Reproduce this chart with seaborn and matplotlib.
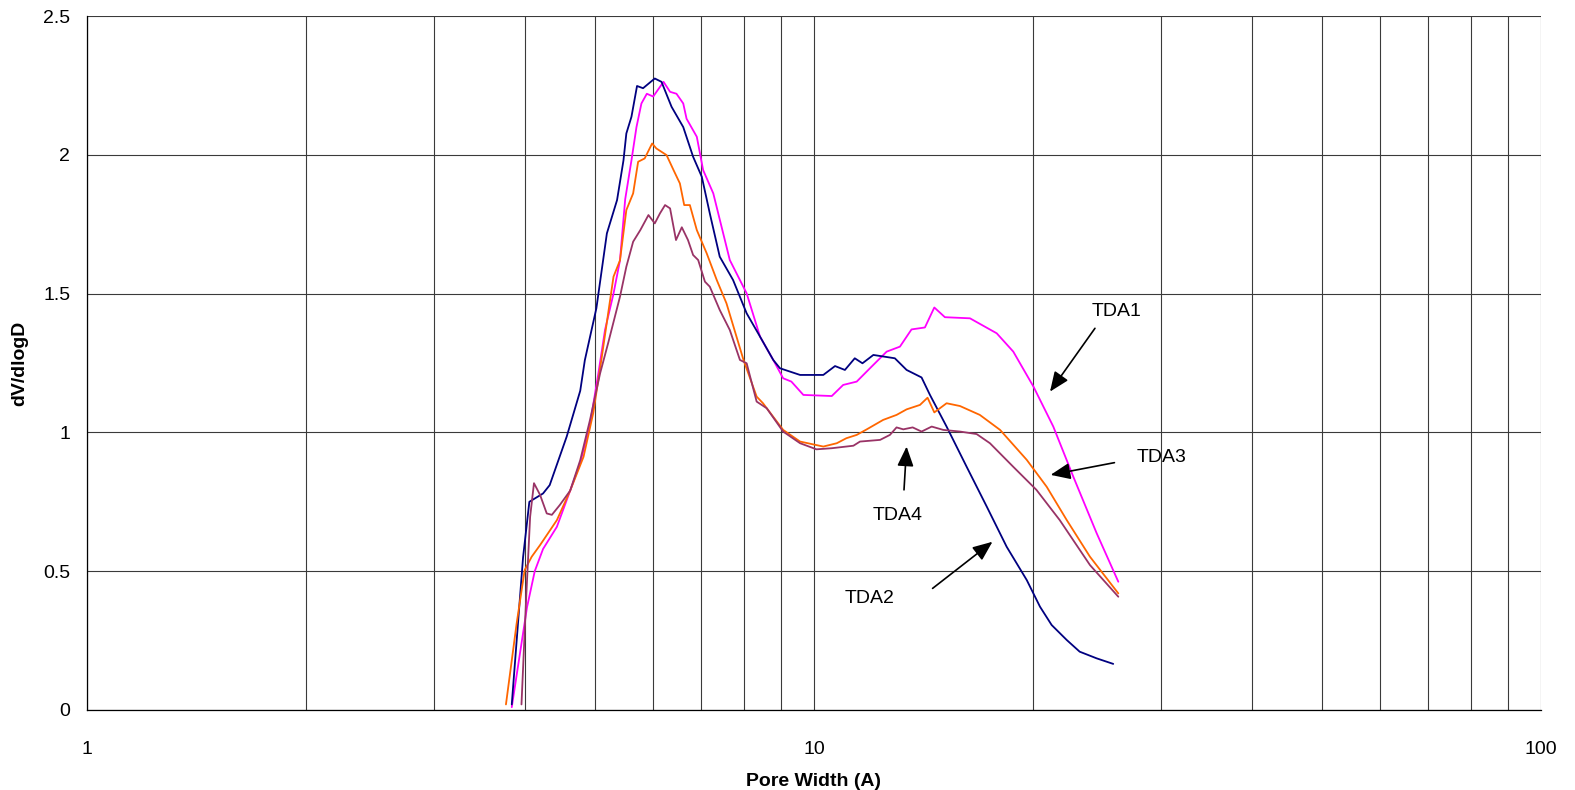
# coding=utf-8
# pore width distribution of the four TDA samples, log x axis
from matplotlib import pyplot as plt
from matplotlib.ticker import LogLocator, NullFormatter, FixedLocator
import seaborn as sns

## data
tda1_x = [3.84, 4.03, 4.13, 4.24, 4.43, 4.62, 4.77, 4.92, 5.05, 5.16, 5.30, 5.41, 5.50, 5.61, 5.70, 5.79,
          5.89, 6.01, 6.21, 6.34, 6.47, 6.61, 6.68, 6.90, 7.04, 7.27, 7.66, 8.08, 8.43, 8.79, 9.07, 9.31,
          9.67, 10.58, 10.97, 11.45, 11.94, 12.59, 13.13, 13.62, 14.21, 14.64, 15.14, 16.39, 17.84, 18.80,
          20.04, 21.34, 22.74, 24.48, 26.22]
tda1_y = [0.01, 0.37, 0.50, 0.58, 0.66, 0.79, 0.89, 1.03, 1.21, 1.37, 1.50, 1.62, 1.84, 1.98, 2.10, 2.185,
          2.22, 2.21, 2.263, 2.227, 2.22, 2.185, 2.13, 2.065, 1.945, 1.861, 1.621, 1.501, 1.345, 1.261, 1.195, 1.183,
          1.135, 1.131, 1.171, 1.183, 1.231, 1.291, 1.309, 1.371, 1.378, 1.45, 1.415, 1.411, 1.357, 1.291,
          1.165, 1.021, 0.84, 0.637, 0.462]

tda2_x = [3.84, 3.98, 4.06, 4.24, 4.33, 4.57, 4.77, 4.84, 5.02, 5.19, 5.36, 5.47, 5.52, 5.61, 5.71, 5.82,
          6.04, 6.17, 6.37, 6.61, 6.82, 7.01, 7.19, 7.42, 7.74, 8.08, 8.43, 8.79, 8.98, 9.57, 10.3, 10.69,
          11.03, 11.38, 11.66, 12.07, 12.92, 13.41, 14.06, 14.44, 15.22, 16.22, 17.29, 18.41, 19.62, 20.46,
          21.23, 22.27, 23.2, 24.48, 25.8]
tda2_y = [0.02, 0.55, 0.75, 0.78, 0.81, 0.985, 1.15, 1.26, 1.447, 1.717, 1.837, 1.98, 2.077, 2.137, 2.248, 2.24,
          2.275, 2.263, 2.173, 2.10, 1.993, 1.921, 1.789, 1.633, 1.549, 1.429, 1.345, 1.261, 1.231, 1.207, 1.207, 1.239,
          1.225, 1.267, 1.249, 1.279, 1.267, 1.225, 1.198, 1.135, 1.021, 0.876, 0.732, 0.588, 0.468, 0.372,
          0.306, 0.252, 0.21, 0.186, 0.166]

tda3_x = [3.77, 3.90, 4.00, 4.09, 4.20, 4.43, 4.62, 4.82, 4.97, 5.10, 5.30, 5.41, 5.52, 5.64, 5.73, 5.85,
          5.99, 6.07, 6.27, 6.41, 6.54, 6.63, 6.75, 6.90, 7.12, 7.35, 7.58, 8.00, 8.34, 8.51, 9.07, 9.57,
          10.30, 10.75, 11.08, 11.45, 11.82, 12.45, 12.99, 13.41, 13.99, 14.33, 14.64, 15.22, 15.88, 16.91,
          18.03, 19.62, 20.9, 22.27, 23.97, 26.22]
tda3_y = [0.02, 0.312, 0.504, 0.552, 0.594, 0.684, 0.79, 0.912, 1.069, 1.261, 1.561, 1.62, 1.801, 1.861, 1.975, 1.987,
          2.041, 2.023, 1.999, 1.945, 1.897, 1.819, 1.819, 1.729, 1.645, 1.549, 1.465, 1.261, 1.129, 1.105, 1.009, 0.967,
          0.949, 0.961, 0.979, 0.991, 1.011, 1.045, 1.063, 1.083, 1.099, 1.125, 1.072, 1.105, 1.095, 1.063,
          1.009, 0.901, 0.804, 0.684, 0.552, 0.42]

tda4_x = [3.96, 4.02, 4.07, 4.12, 4.20, 4.29, 4.36, 4.47, 4.62, 4.77, 4.92, 5.08, 5.21, 5.41, 5.52, 5.64,
          5.77, 5.92, 6.04, 6.14, 6.24, 6.34, 6.46, 6.58, 6.71, 6.82, 6.93, 7.08, 7.19, 7.42, 7.66, 7.91,
          8.08, 8.34, 8.61, 9.07, 9.57, 10.08, 10.58, 11.33, 11.57, 12.33, 12.72, 12.99, 13.27, 13.67,
          14.06, 14.52, 15.06, 15.88, 16.74, 17.46, 18.80, 20.23, 21.78, 23.97, 26.22]
tda4_y = [0.02, 0.408, 0.696, 0.817, 0.775, 0.708, 0.703, 0.738, 0.79, 0.90, 1.045, 1.213, 1.321, 1.489, 1.597, 1.687,
          1.729, 1.783, 1.753, 1.789, 1.819, 1.807, 1.693, 1.739, 1.693, 1.639, 1.621, 1.543, 1.525, 1.441, 1.369, 1.261,
          1.249, 1.111, 1.087, 1.003, 0.961, 0.939, 0.943, 0.952, 0.967, 0.973, 0.991, 1.018, 1.011, 1.018,
          1.003, 1.021, 1.009, 1.003, 0.994, 0.961, 0.876, 0.793, 0.684, 0.522, 0.408]

## labels: (text, text pos, arrow tail, arrow head)
labels = ['TDA1', 'TDA3', 'TDA4', 'TDA2']
label_xy = [(26.1, 1.434), (30.1, 0.911), (13.05, 0.702), (11.94, 0.40)]
tail_xy = [(24.35, 1.375), (25.9, 0.891), (13.3, 0.793), (14.56, 0.438)]
head_xy = [(21.12, 1.147), (21.16, 0.847), (13.41, 0.949), (17.6, 0.606)]


def main():
    sns.set_style('white')
    plt.rcParams['font.family'] = ['Liberation Sans', 'DejaVu Sans']
    for k in ['text.color', 'axes.labelcolor', 'xtick.labelcolor', 'ytick.labelcolor']:
        plt.rcParams[k] = 'black'

    fig = plt.figure(figsize=(15.75, 7.9), dpi=100)
    ax = fig.add_axes([0.0552, 0.1013, 0.9232, 0.8784])

    series = [(tda1_x, tda1_y, '#FF00FF'), (tda2_x, tda2_y, '#000080'),
              (tda3_x, tda3_y, '#FF6600'), (tda4_x, tda4_y, '#993366')]
    for xs, ys, c in series:
        sns.lineplot(x=xs, y=ys, color=c, linewidth=1.3, sort=False, ax=ax)

    ax.set_xscale('log')
    ax.set_xlim(1, 100)
    ax.set_ylim(0, 2.5)
    ax.xaxis.set_major_locator(FixedLocator([1, 10, 100]))
    ax.set_xticklabels(['1', '10', '100'])
    ax.xaxis.set_minor_locator(LogLocator(base=10, subs=range(2, 10)))
    ax.xaxis.set_minor_formatter(NullFormatter())
    ax.set_yticks([0, 0.5, 1, 1.5, 2, 2.5])
    ax.set_yticklabels(['0', '0.5', '1', '1.5', '2', '2.5'])

    ax.grid(True, which='both', axis='x', color='#3a3a3a', linewidth=0.8)
    ax.grid(True, which='major', axis='y', color='#3a3a3a', linewidth=0.8)
    ax.tick_params(axis='both', which='major', direction='out', length=5, width=0.8,
                   color='#333333', labelsize=14)
    ax.tick_params(axis='x', which='major', pad=17)
    ax.tick_params(axis='y', which='major', pad=7)
    ax.tick_params(axis='x', which='minor', length=0)
    for s in ['top', 'right']:
        ax.spines[s].set_visible(False)
    for s in ['left', 'bottom']:
        ax.spines[s].set_color('black')
        ax.spines[s].set_linewidth(0.9)

    for txt, lp, tp, hp in zip(labels, label_xy, tail_xy, head_xy):
        ax.annotate('', xy=hp, xytext=tp,
                    arrowprops=dict(arrowstyle='-|>,head_length=1.2,head_width=0.5',
                                    color='black', lw=1.2, shrinkA=0, shrinkB=0))
        ax.text(lp[0], lp[1], txt, fontsize=14, ha='center', va='center')

    ax.set_xlabel('Pore Width (A)', fontsize=14, fontweight='bold', labelpad=11)
    ax.set_ylabel('dV/dlogD', fontsize=14, fontweight='bold', labelpad=11)

    plt.savefig('out.png')


if __name__ == '__main__':
    main()
